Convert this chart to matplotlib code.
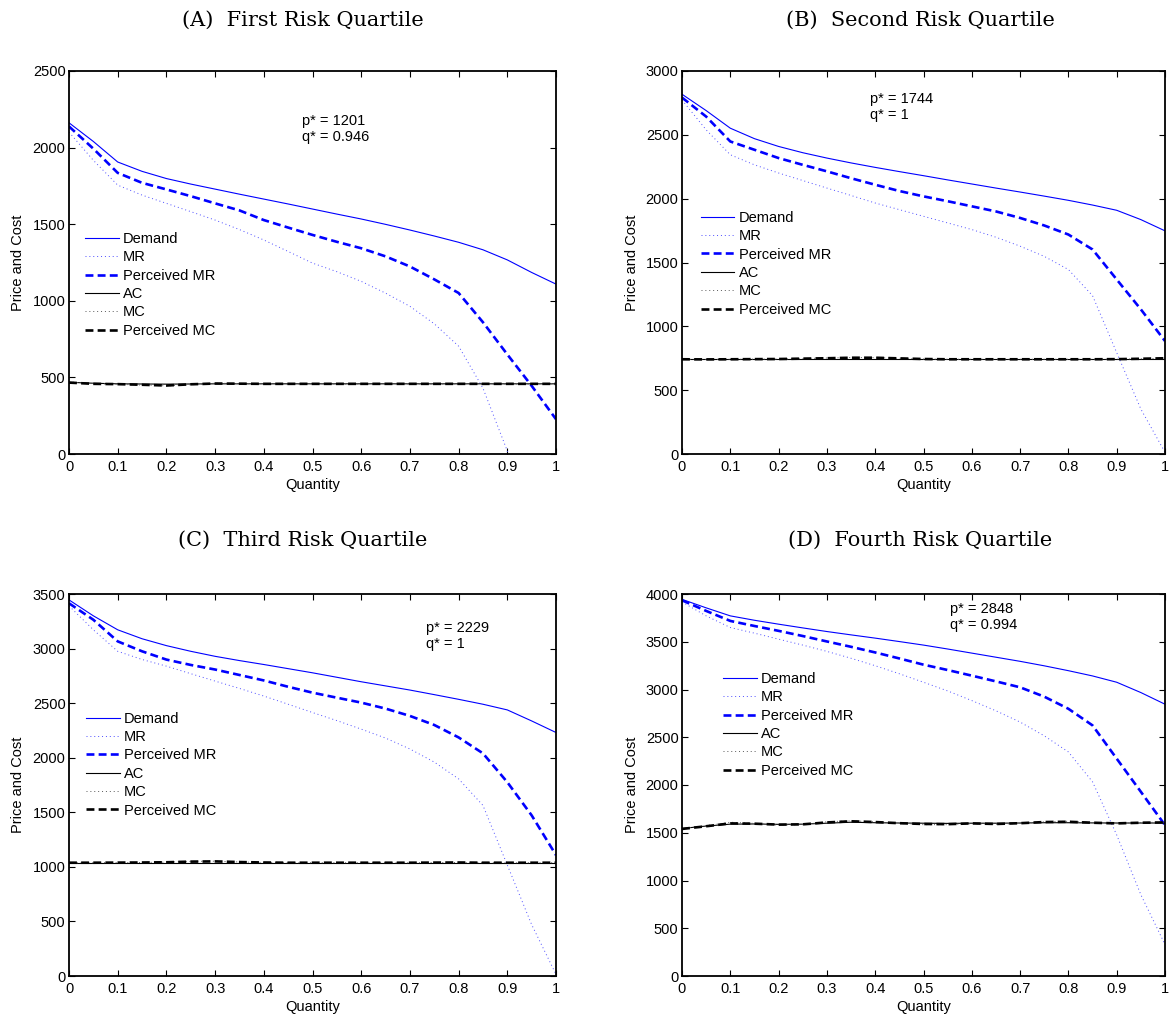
import matplotlib
matplotlib.use("Agg")
import matplotlib.pyplot as plt

plt.rcParams['font.family'] = ['Liberation Sans', 'DejaVu Sans']

q = [0, 0.05, 0.1, 0.15, 0.2, 0.25, 0.3, 0.35, 0.4, 0.45, 0.5,
     0.55, 0.6, 0.65, 0.7, 0.75, 0.8, 0.85, 0.9, 0.95, 1.0]

# Panel A
demand_a = [2162, 2040, 1906, 1845, 1798, 1762, 1729, 1696, 1664, 1632, 1599,
            1566, 1534, 1499, 1462, 1423, 1382, 1333, 1267, 1185, 1109]
mr_a = [2101, 1917, 1755, 1690, 1636, 1582, 1527, 1465, 1397, 1322, 1246,
        1190, 1127, 1050, 964, 850, 704, 430, 20, -700, -1500]
pmr_a = [2138, 1993, 1835, 1770, 1727, 1683, 1636, 1590, 1527, 1478, 1430,
         1385, 1343, 1290, 1224, 1140, 1051, 860, 650, 445, 227]
ac_a = [468, 462, 458, 457, 456, 457, 458, 458, 458, 458, 458,
        458, 458, 458, 458, 458, 458, 458, 458, 458, 458]
mc_a = [470, 460, 455, 450, 445, 452, 462, 460, 458, 457, 459,
        458, 457, 459, 458, 457, 459, 458, 457, 458, 459]
pmc_a = [466, 458, 456, 452, 447, 455, 460, 459, 458, 458, 458,
         458, 458, 458, 458, 458, 458, 458, 458, 458, 458]

# Panel B
demand_b = [2818, 2690, 2552, 2470, 2409, 2360, 2318, 2280, 2245, 2212, 2180,
            2147, 2115, 2083, 2052, 2020, 1987, 1950, 1909, 1836, 1748]
mr_b = [2773, 2539, 2344, 2265, 2201, 2142, 2083, 2025, 1966, 1914, 1862,
        1810, 1758, 1698, 1628, 1548, 1445, 1240, 794, 352, 13]
pmr_b = [2792, 2643, 2448, 2383, 2318, 2265, 2214, 2160, 2109, 2060, 2018,
         1980, 1940, 1900, 1849, 1790, 1719, 1602, 1367, 1133, 885]
ac_b = [742] * 21
mc_b = [742, 741, 742, 743, 744, 747, 752, 756, 755, 750, 744,
        742, 742, 742, 742, 742, 742, 742, 743, 746, 750]
pmc_b = [742, 741, 742, 743, 744, 747, 750, 754, 754, 749, 744,
         742, 742, 742, 742, 742, 742, 742, 743, 746, 750]

# Panel C
demand_c = [3446, 3300, 3172, 3090, 3027, 2975, 2929, 2890, 2854, 2816, 2778,
            2737, 2696, 2658, 2620, 2578, 2535, 2490, 2438, 2337, 2231]
mr_c = [3391, 3172, 2975, 2900, 2839, 2770, 2702, 2635, 2565, 2490, 2414,
        2340, 2262, 2180, 2080, 1960, 1806, 1563, 1017, 471, 15]
pmr_c = [3415, 3264, 3066, 2975, 2899, 2850, 2808, 2758, 2708, 2650, 2596,
         2550, 2505, 2450, 2383, 2300, 2186, 2040, 1776, 1472, 1108]
ac_c = [1038] * 21
mc_c = [1038, 1038, 1039, 1040, 1043, 1050, 1052, 1045, 1040, 1038, 1038,
        1038, 1038, 1038, 1038, 1039, 1040, 1038, 1038, 1038, 1038]
pmc_c = [1038, 1038, 1039, 1040, 1042, 1048, 1050, 1044, 1040, 1038, 1038,
         1038, 1038, 1038, 1038, 1039, 1040, 1038, 1038, 1038, 1038]

# Panel D
demand_d = [3944, 3855, 3771, 3725, 3684, 3645, 3607, 3572, 3538, 3502, 3465,
            3424, 3381, 3338, 3295, 3248, 3197, 3142, 3076, 2968, 2846]
mr_d = [3917, 3771, 3649, 3590, 3527, 3465, 3399, 3327, 3249, 3165, 3076,
        2985, 2884, 2777, 2659, 2515, 2346, 2033, 1477, 851, 330]
pmr_d = [3934, 3823, 3718, 3665, 3614, 3560, 3503, 3447, 3388, 3325, 3260,
         3204, 3145, 3085, 3023, 2925, 2798, 2624, 2276, 1929, 1580]
ac_d = [1545, 1570, 1590, 1592, 1588, 1590, 1600, 1610, 1605, 1602, 1600,
        1598, 1600, 1600, 1602, 1605, 1605, 1603, 1602, 1602, 1602]
mc_d = [1545, 1575, 1610, 1598, 1580, 1585, 1615, 1625, 1615, 1598, 1585,
        1585, 1595, 1588, 1598, 1615, 1620, 1608, 1595, 1608, 1610]
pmc_d = [1540, 1568, 1598, 1595, 1585, 1588, 1608, 1620, 1612, 1600, 1592,
         1590, 1598, 1592, 1600, 1612, 1615, 1605, 1598, 1605, 1608]

titles = ["(A)  First Risk Quartile", "(B)  Second Risk Quartile",
          "(C)  Third Risk Quartile", "(D)  Fourth Risk Quartile"]
p_star = ["1201", "1744", "2229", "2848"]
q_star = ["0.946", "1", "1", "0.994"]
ymax = [2500, 3000, 3500, 4000]
xticks = [0, 0.1, 0.2, 0.3, 0.4, 0.5, 0.6, 0.7, 0.8, 0.9, 1]
xticklabels = ["0", "0.1", "0.2", "0.3", "0.4", "0.5", "0.6", "0.7", "0.8", "0.9", "1"]
legend_labels = ["Demand", "MR", "Perceived MR", "AC", "MC", "Perceived MC"]

panels = [
    (demand_a, mr_a, pmr_a, ac_a, mc_a, pmc_a),
    (demand_b, mr_b, pmr_b, ac_b, mc_b, pmc_b),
    (demand_c, mr_c, pmr_c, ac_c, mc_c, pmc_c),
    (demand_d, mr_d, pmr_d, ac_d, mc_d, pmc_d),
]

W, H = 1172, 1019
fig = plt.figure(figsize=(W / 100, H / 100), dpi=100)

# axes boxes in pixels: left, top, right, bottom
boxes = [(69, 71, 556, 454), (682, 71, 1165, 454),
         (69, 594, 556, 976), (682, 594, 1165, 976)]
title_pos = [(303, 20), (920, 20), (303, 540), (920, 540)]
annot_pos = [(0.479, 2123), (0.39, 2715), (0.733, 3113), (0.555, 3757)]
legend_pos = [(0.033, 0.580), (0.039, 0.635), (0.035, 0.692), (0.085, 0.796)]

FS = 10.5
for i, (dem, mr, pmr, ac, mc, pmc) in enumerate(panels):
    l, t, r, b = boxes[i]
    ax = fig.add_axes([l / W, 1 - b / H, (r - l) / W, (b - t) / H])
    ax.plot(q, dem, color=(0, 0, 1), lw=0.8, label=legend_labels[0])
    ax.plot(q, mr, color=(0.3, 0.3, 1), lw=0.7, linestyle=(0, (1, 3)), label=legend_labels[1])
    ax.plot(q, pmr, color=(0, 0, 1), lw=1.9, dashes=(3, 1.6), label=legend_labels[2])
    ax.plot(q, ac, color='black', lw=0.8, label=legend_labels[3])
    ax.plot(q, mc, color=(0.35, 0.35, 0.35), lw=0.7, linestyle=(0, (1, 3)), label=legend_labels[4])
    ax.plot(q, pmc, color='black', lw=1.9, dashes=(3, 1.6), label=legend_labels[5])

    ax.set_xlim(0, 1)
    ax.set_ylim(0, ymax[i])
    ax.set_xticks(xticks)
    ax.set_xticklabels(xticklabels)
    ax.set_yticks(list(range(0, ymax[i] + 1, 500)))
    ax.tick_params(direction='in', top=True, right=True, length=4, width=0.8,
                   labelsize=FS, colors='black')
    ax.tick_params(axis='x', pad=4)
    ax.tick_params(axis='y', pad=2.5)
    for s in ax.spines.values():
        s.set_linewidth(1.3)
    ax.set_xlabel("Quantity", fontsize=FS)
    ax.set_ylabel("Price and Cost", fontsize=FS)
    ax.xaxis.set_label_coords(0.5, -0.063)
    ax.yaxis.set_label_coords(-0.09, 0.5)

    ax.text(annot_pos[i][0], annot_pos[i][1],
            "p* = " + p_star[i] + "\nq* = " + q_star[i],
            fontsize=FS, ha='left', va='center', linespacing=1.2)

    ax.legend(loc='upper left', bbox_to_anchor=legend_pos[i], frameon=False,
              fontsize=FS, borderpad=0, borderaxespad=0, handlelength=2.3,
              handletextpad=0.3, labelspacing=0.3)

    fig.text(title_pos[i][0] / W, 1 - title_pos[i][1] / H, titles[i],
             fontsize=15, family=['DejaVu Serif'],
             ha='center', va='center')

fig.savefig("out.png", dpi=100)
